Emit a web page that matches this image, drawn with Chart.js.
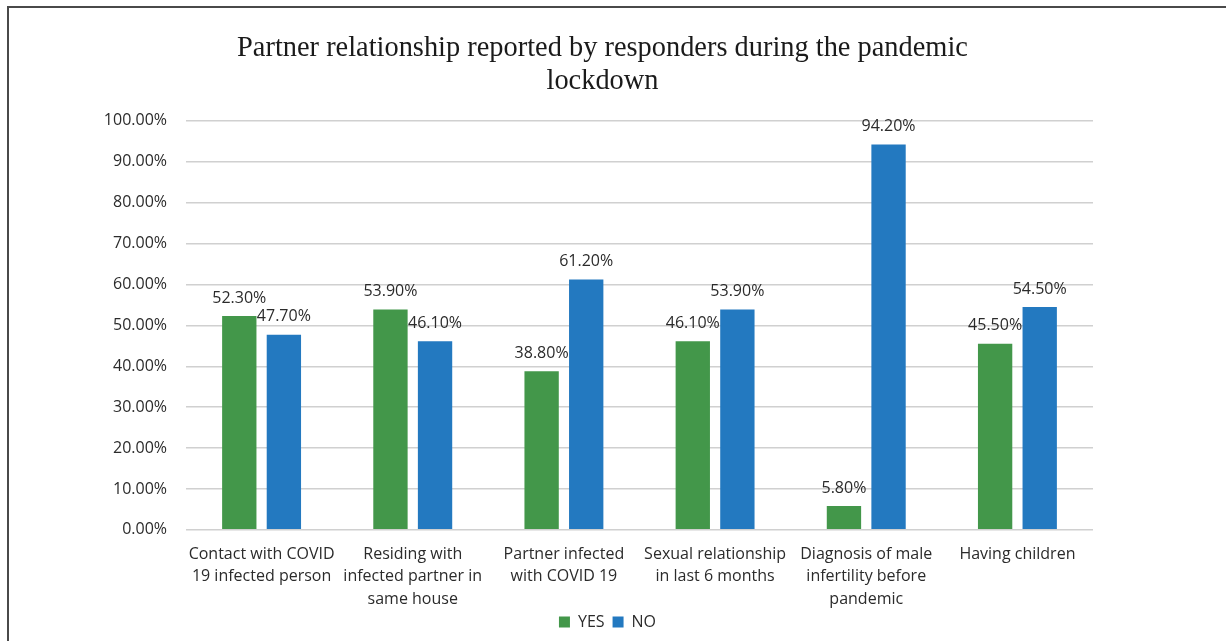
<!DOCTYPE html>
<html>
<head>
<meta charset="utf-8">
<script src="https://cdn.jsdelivr.net/npm/chart.js@4"></script>
<style>
  body { margin: 0; background: #fff; }
  #wrap { position: relative; width: 1226px; height: 641px; overflow: hidden; }
  #frame { position: absolute; left: 7px; top: 6px; width: 1260px; height: 700px; border: 2px solid #4a4a4a; }
  canvas { position: absolute; left: 0; top: 0; }
</style>
</head>
<body>
<div id="wrap">
  <div id="frame"></div>
  <canvas id="myChart" width="1226" height="641"></canvas>
</div>
<script>
// Kategorier (x-akse), delt i linjer som i originalen
const categories = [
  ["Contact with COVID", "19 infected person"],
  ["Residing with", "infected partner in", "same house"],
  ["Partner infected", "with COVID 19"],
  ["Sexual relationship", "in last 6 months"],
  ["Diagnosis of male", "infertility before", "pandemic"],
  ["Having children"]
];

// Verdier i prosent
const yes = [52.3, 53.9, 38.8, 46.1, 5.8, 45.5];
const no = [47.7, 46.1, 61.2, 53.9, 94.2, 54.5];

// Tick-verdier for y-aksen
const yTicks = [0, 10, 20, 30, 40, 50, 60, 70, 80, 90, 100];

const textFont = "'Open Sans', sans-serif";
const textColor = "#2b2b2b";

// Tegner verdien over hver søyle
const valueLabels = {
  id: "valueLabels",
  afterDatasetsDraw(chart) {
    const ctx = chart.ctx;
    ctx.save();
    ctx.font = "16px " + textFont;
    ctx.fillStyle = textColor;
    ctx.textAlign = "center";
    ctx.textBaseline = "middle";
    chart.data.datasets.forEach((ds, i) => {
      chart.getDatasetMeta(i).data.forEach((bar, j) => {
        ctx.fillText(ds.data[j].toFixed(2) + "%", bar.x, bar.y - 18);
      });
    });
    ctx.restore();
  }
};

// Flytter tittel og forklaring litt, slik som i originalen
const shiftBoxes = {
  id: "shiftBoxes",
  afterLayout(chart) {
    if (chart.titleBlock) { chart.titleBlock.left += 10; chart.titleBlock.right += 10; }
    if (chart.legend) {
      chart.legend.left += 15; chart.legend.right += 15;
      chart.legend.top -= 10; chart.legend.bottom -= 10;
    }
  }
};

const ctx = document.getElementById("myChart").getContext("2d");

const chart = new Chart(ctx, {
  type: "bar",
  data: {
    labels: categories,
    datasets: [
      { label: "YES", data: yes, backgroundColor: "#43974a" },
      { label: "NO", data: no, backgroundColor: "#2379c0" }
    ]
  },
  plugins: [valueLabels, shiftBoxes],
  options: {
    responsive: false,
    animation: false,
    layout: { padding: { left: 92, right: 133, top: 18, bottom: -9 } },
    datasets: {
      bar: { categoryPercentage: 0.59, barPercentage: 0.77 }
    },
    plugins: {
      title: {
        display: true,
        text: ["Partner relationship reported by responders during the pandemic", "lockdown"],
        font: { family: "'Liberation Serif', serif", size: 28.4, weight: "normal", lineHeight: 1.16 },
        color: "#1a1a1a",
        padding: { top: 14, bottom: 23 }
      },
      legend: {
        position: "bottom",
        labels: {
          boxWidth: 11,
          boxHeight: 11,
          color: textColor,
          font: { family: textFont, size: 16 },
          padding: 8
        }
      },
      tooltip: { enabled: false }
    },
    scales: {
      x: {
        grid: { display: false },
        border: { display: false },
        ticks: {
          color: textColor,
          font: { family: textFont, size: 16, lineHeight: 1.42 },
          padding: 5,
          maxRotation: 0,
          autoSkip: false
        }
      },
      y: {
        min: 0,
        max: 100,
        afterFit(scale) { scale.width = 94; },
        afterBuildTicks(scale) { scale.ticks = yTicks.map(v => ({ value: v })); },
        grid: { color: "#d0d0d0", lineWidth: 1.5, drawTicks: false },
        border: { display: false },
        ticks: {
          color: textColor,
          font: { family: textFont, size: 16 },
          padding: 19,
          callback: v => v.toFixed(2) + "%"
        }
      }
    }
  }
});
</script>
</body>
</html>
